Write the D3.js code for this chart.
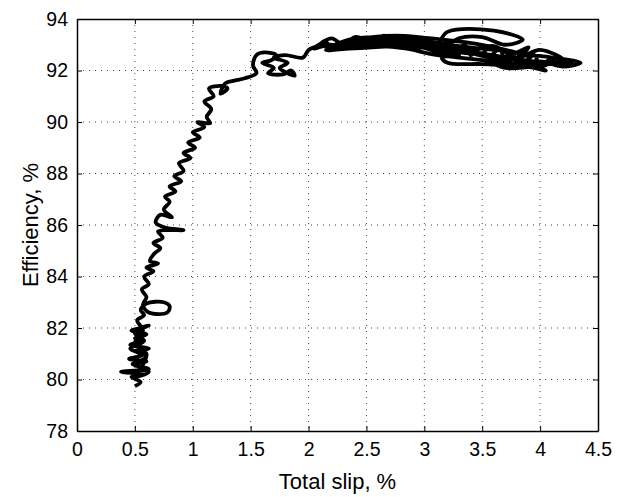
<!DOCTYPE html>
<html>
<head>
<meta charset="utf-8">
<script src="https://cdn.jsdelivr.net/npm/d3@7"></script>
<style>
  body { margin: 0; background: white; }
  text { font-family: "Liberation Sans", Arial, sans-serif; }
</style>
</head>
<body>
<svg id="chart" width="617" height="497"></svg>
<script>
// tick values
const xTicks = [0, 0.5, 1, 1.5, 2, 2.5, 3, 3.5, 4, 4.5]
const yTicks = [78, 80, 82, 84, 86, 88, 90, 92, 94]

// trajectory (total slip %, efficiency %)
const slip = [
  0.50, 0.55, 0.47, 0.58, 0.38, 0.52, 0.62, 0.48, 0.60, 0.45, 0.57, 0.50, 0.62, 0.46, 0.58, 0.50, 0.60, 0.47, 0.55, 0.62,
  0.50, 0.58, 0.46, 0.60, 0.52, 0.62, 0.48, 0.56, 0.60, 0.50, 0.57,
  0.52, 0.58, 0.55, 0.60, 0.75, 0.80, 0.78, 0.62, 0.57, 0.60, 0.56, 0.62, 0.58, 0.66, 0.60, 0.70, 0.63, 0.67, 0.72, 0.66,
  0.74, 0.70, 0.92, 0.76, 0.68, 0.72, 0.82, 0.75, 0.80, 0.76, 0.85, 0.80, 0.90, 0.84, 0.92, 0.88, 0.98, 0.92, 1.02, 0.96,
  1.06, 1.00, 1.10, 1.04, 1.15, 1.12, 1.16, 1.10, 1.18, 1.14, 1.25, 1.30, 1.24, 1.28, 1.35, 1.45, 1.55, 1.52, 1.55, 1.62,
  1.72, 1.68, 1.60, 1.70, 1.65, 1.78, 1.85, 1.88, 1.75, 1.82, 1.70, 1.80, 1.95, 2.00,
  2.05, 2.15, 2.20, 2.30, 2.35, 2.45, 2.50, 2.60, 2.65, 2.75, 2.80, 2.90, 2.95, 3.05, 3.10, 3.20, 3.25, 3.35, 3.40, 3.50,
  3.55, 3.65, 3.70, 3.80, 3.85, 3.95, 4.00, 4.10, 4.35, 4.20, 4.00,
  3.90, 3.50, 3.20, 3.15, 3.30, 3.10, 2.95, 2.80, 2.65, 2.55, 2.40, 2.30, 2.20, 2.10,
  2.30, 2.50, 2.70, 2.90, 3.10, 3.20, 3.60, 3.85, 3.70, 3.50, 3.30, 3.20, 3.40, 3.60, 3.80, 4.00, 4.20, 4.00, 3.70, 3.60,
  3.80, 3.90, 3.75, 3.55, 3.95, 4.05,
  3.85, 3.65, 3.45, 3.30, 3.15, 3.00, 2.85, 2.70, 2.55, 2.40, 2.25, 2.12, 2.05,
  2.18, 2.32, 2.48, 2.62, 2.78, 2.92, 3.08, 3.22, 3.38, 3.52, 3.68, 3.82, 3.98, 4.15, 4.28,
  4.10, 3.92, 3.72, 3.50, 3.30, 3.05, 2.85, 2.60, 2.40, 2.22,
  2.40, 2.60, 2.85, 3.05, 3.30, 3.50, 3.75, 3.95, 4.05,
  3.80, 3.55, 3.30, 3.12, 2.95, 2.75, 2.55, 2.35, 2.15,
  2.35, 2.55, 2.75, 2.95, 3.15, 3.35, 3.55, 3.75, 3.90
]
const eff = [
  79.75, 79.9, 80.1, 80.2, 80.3, 80.35, 80.4, 80.6, 80.7, 80.8, 80.95, 81.1, 81.2, 81.35, 81.5, 81.6, 81.75, 81.9, 82.0, 82.1,
  81.8, 81.5, 81.2, 80.9, 80.6, 80.3, 80.1, 80.5, 81.0, 81.4, 81.9,
  82.3, 82.5, 82.7, 82.95, 83.0, 82.85, 82.6, 82.6, 82.9, 83.2, 83.5, 83.7, 84.0, 84.2, 84.35, 84.5, 84.6, 84.9, 85.1, 85.3,
  85.5, 85.75, 85.8, 85.9, 86.1, 86.4, 86.3, 86.6, 86.9, 87.1, 87.3, 87.5, 87.7, 87.9, 88.1, 88.4, 88.6, 88.8, 89.0, 89.2,
  89.4, 89.6, 89.8, 90.0, 89.95, 90.2, 90.5, 90.8, 91.0, 91.3, 91.4, 91.3, 91.1, 91.5, 91.6, 91.7, 91.9, 92.2, 92.6, 92.7,
  92.6, 92.4, 92.3, 92.1, 91.9, 91.85, 92.0, 91.8, 92.1, 92.3, 92.5, 92.6, 92.5, 92.8,
  92.9, 93.1, 92.8, 93.05, 92.85, 93.2, 92.9, 93.3, 92.95, 93.25, 92.9, 93.2, 92.85, 93.15, 92.8, 93.1, 92.7, 93.0, 92.6, 92.9,
  92.5, 92.85, 92.4, 92.7, 92.3, 92.6, 92.2, 92.45, 92.3, 92.15, 92.35,
  92.2, 92.25, 92.3, 92.5, 92.6, 92.75, 92.95, 93.1, 93.35, 93.15, 93.3, 93.0, 93.25, 93.0,
  92.9, 93.1, 93.0, 93.3, 93.0, 93.5, 93.55, 93.2, 93.0, 93.3, 93.25, 92.9, 92.8, 92.95, 92.5, 92.8, 92.4, 92.2, 92.1, 92.3,
  92.5, 92.9, 92.6, 92.4, 92.1, 92.0,
  92.4, 92.55, 92.7, 92.8, 92.9, 93.0, 93.05, 93.1, 93.05, 93.1, 93.0, 92.95, 92.85,
  93.0, 92.95, 93.05, 93.0, 93.1, 92.95, 92.9, 92.75, 92.7, 92.55, 92.5, 92.4, 92.35, 92.3, 92.25,
  92.5, 92.6, 92.75, 92.85, 92.95, 93.1, 93.2, 93.2, 93.15, 93.0,
  92.9, 92.95, 92.85, 92.65, 92.5, 92.4, 92.3, 92.25, 92.2,
  92.45, 92.6, 92.7, 92.85, 92.9, 92.95, 92.9, 92.85, 92.8,
  93.2, 93.3, 93.35, 93.3, 93.2, 93.1, 92.95, 92.75, 92.55
]

const svg = d3.select('#chart')
const margin = {left: 77, top: 19, right: 19, bottom: 66}
const width = 617 - margin.left - margin.right
const height = 497 - margin.top - margin.bottom

const xScale = d3.scaleLinear().domain([0, 4.5]).range([0, width])
const yScale = d3.scaleLinear().domain([78, 94]).range([height, 0])

const g = svg.append('g')
             .attr('transform', `translate(${margin.left},${margin.top})`)

// dotted grid
g.append('g').selectAll('line')
  .data(xTicks.slice(1, -1))
  .join('line')
  .attr('x1', d => xScale(d)).attr('x2', d => xScale(d))
  .attr('y1', 0).attr('y2', height)
  .style('stroke', '#444')
  .style('stroke-width', 1)
  .style('stroke-dasharray', '1,5')

g.append('g').selectAll('line')
  .data(yTicks.slice(1, -1))
  .join('line')
  .attr('y1', d => yScale(d)).attr('y2', d => yScale(d))
  .attr('x1', 0).attr('x2', width)
  .style('stroke', '#444')
  .style('stroke-width', 1)
  .style('stroke-dasharray', '1,5')

// axes with inward ticks
const xAxis = g.append('g')
  .attr('transform', `translate(0,${height})`)
  .call(d3.axisBottom(xScale).tickValues(xTicks).tickSizeInner(-5).tickSizeOuter(0).tickPadding(11)
        .tickFormat(d3.format('')))
const yAxis = g.append('g')
  .call(d3.axisLeft(yScale).tickValues(yTicks).tickSizeInner(-5).tickSizeOuter(0).tickPadding(9))
const xTop = g.append('g')
  .call(d3.axisTop(xScale).tickValues(xTicks).tickSizeInner(-5).tickSizeOuter(0).tickFormat(''))
const yRight = g.append('g')
  .attr('transform', `translate(${width},0)`)
  .call(d3.axisRight(yScale).tickValues(yTicks).tickSizeInner(-5).tickSizeOuter(0).tickFormat(''))

;[xAxis, yAxis, xTop, yRight].forEach(a => {
  a.select('.domain').style('stroke', '#000').style('stroke-width', 1.5)
  a.selectAll('.tick line').style('stroke', '#000')
  a.selectAll('text').style('font-size', '19.5px').style('fill', '#000')
    .style('font-family', '"Liberation Sans", Arial, sans-serif')
})

// trajectory
const line = d3.line()
  .x(d => xScale(d[0]))
  .y(d => yScale(d[1]))
  .curve(d3.curveCatmullRom.alpha(0.5))

g.append('path')
  .datum(slip.map((s, i) => [s, eff[i]]))
  .attr('d', line)
  .style('fill', 'none')
  .style('stroke', '#000')
  .style('stroke-width', 3.8)
  .style('stroke-linejoin', 'round')

// axis titles
svg.append('text')
  .text('Total slip, %')
  .attr('x', margin.left + width / 2)
  .attr('y', 489)
  .style('text-anchor', 'middle')
  .style('font-size', '22px')

svg.append('text')
  .text('Efficiency, %')
  .attr('transform', `translate(38, ${margin.top + height / 2}) rotate(-90)`)
  .style('text-anchor', 'middle')
  .style('font-size', '22px')
</script>
</body>
</html>
